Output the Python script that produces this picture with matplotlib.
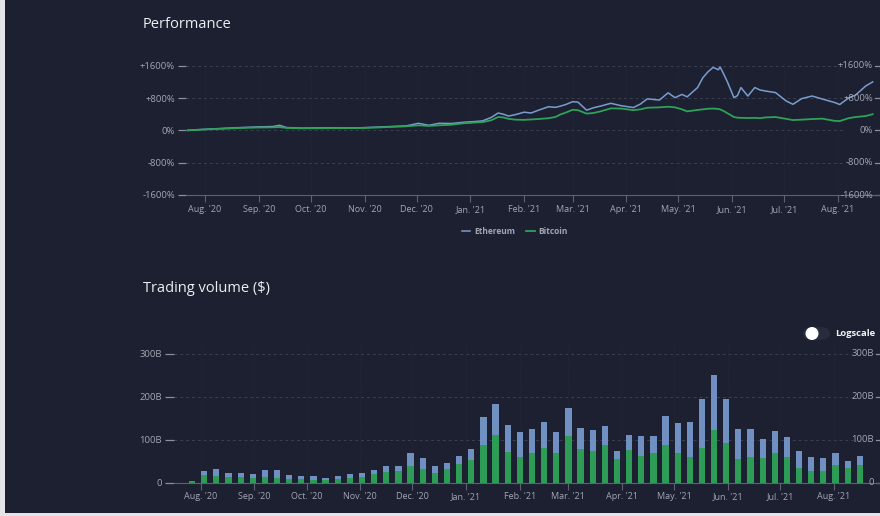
import matplotlib.pyplot as plt
import matplotlib.dates as mdates
import matplotlib.transforms as mtransforms
from matplotlib.patches import Rectangle, FancyBboxPatch, Ellipse
import pandas as pd

# --- Data ---
perf_dates = [
    '2020-07-22', '2020-07-27', '2020-08-05', '2020-08-14', '2020-08-22', '2020-08-31',
    '2020-09-09', '2020-09-13', '2020-09-17', '2020-09-26', '2020-10-04', '2020-10-13',
    '2020-10-22', '2020-10-30', '2020-11-08', '2020-11-16', '2020-11-25', '2020-12-02',
    '2020-12-08', '2020-12-14', '2020-12-21', '2020-12-28', '2021-01-04', '2021-01-08',
    '2021-01-13', '2021-01-17', '2021-01-20', '2021-01-23', '2021-01-27', '2021-02-01',
    '2021-02-05', '2021-02-09', '2021-02-15', '2021-02-19', '2021-02-22', '2021-02-25',
    '2021-03-01', '2021-03-04', '2021-03-09', '2021-03-13', '2021-03-17', '2021-03-23',
    '2021-03-29', '2021-04-05', '2021-04-09', '2021-04-13', '2021-04-20', '2021-04-25',
    '2021-04-29', '2021-05-03', '2021-05-06', '2021-05-12', '2021-05-15', '2021-05-18',
    '2021-05-21', '2021-05-24', '2021-05-25', '2021-05-27', '2021-05-29', '2021-06-02',
    '2021-06-04', '2021-06-06', '2021-06-10', '2021-06-14', '2021-06-17', '2021-06-20',
    '2021-06-26', '2021-07-02', '2021-07-06', '2021-07-11', '2021-07-17', '2021-07-23',
    '2021-07-30', '2021-08-02', '2021-08-07', '2021-08-11', '2021-08-17', '2021-08-21',
]
eth_perf = [
    0, 15, 35, 55, 70, 85, 95, 125, 70, 55, 60, 65,
    60, 65, 80, 95, 110, 175, 125, 175, 170, 200, 220, 235,
    320, 430, 400, 355, 390, 450, 430, 495, 585, 570, 600, 640,
    710, 700, 500, 560, 600, 670, 610, 565, 650, 780, 750, 930,
    810, 890, 830, 1060, 1300, 1450, 1560, 1500, 1570, 1400, 1220, 810,
    860, 1060, 850, 1060, 1000, 975, 935, 730, 645, 785, 850, 775,
    690, 640, 800, 870, 1100, 1200,
]
btc_perf = [
    0, 12, 30, 45, 60, 70, 75, 80, 60, 50, 52, 55,
    55, 58, 70, 85, 100, 125, 110, 125, 140, 175, 195, 205,
    250, 330, 320, 285, 265, 260, 270, 280, 300, 330, 395, 440,
    510, 500, 415, 430, 470, 545, 540, 500, 520, 560, 570, 585,
    570, 520, 470, 505, 520, 535, 540, 530, 520, 480, 430, 330,
    315, 310, 305, 310, 300, 320, 330, 285, 255, 265, 280, 290,
    235, 230, 300, 330, 355, 400,
]

vol_weeks = pd.date_range('2020-07-27', periods=56, freq='7D')
# weekly trading volume in billions of $
btc_vol = [
    3, 17, 16, 13, 13, 12, 13, 12, 9, 8, 7, 7, 9, 12, 14, 20, 25, 27, 39, 33,
    23, 31, 44, 53, 88, 111, 71, 61, 69, 81, 70, 108, 78, 75, 89, 56, 77, 62,
    69, 89, 69, 59, 81, 122, 93, 55, 61, 57, 69, 61, 34, 27, 28, 42, 34, 41,
]
eth_vol = [
    1, 10, 17, 10, 10, 8, 16, 17, 9, 8, 8, 5, 7, 8, 9, 9, 15, 13, 30, 25,
    17, 16, 18, 25, 65, 73, 64, 56, 56, 60, 47, 66, 49, 47, 42, 19, 34, 46,
    40, 67, 69, 83, 115, 130, 103, 69, 65, 46, 51, 45, 39, 32, 30, 27, 17, 21,
]

perf_ticks = [-1600, -800, 0, 800, 1600]
perf_labels = ['-1600%', '-800%', '0%', '+800%', '+1600%']
vol_ticks = [0, 100, 200, 300]
vol_labels = ['0', '100B', '200B', '300B']

# --- Style ---
BG = '#1c2031'
GRID = '#3b4052'
TICK_TXT = '#a3a7b3'
AXIS = '#5d6273'
ETH_C = '#7a9dcf'
BTC_C = '#2ea259'
ETH_BAR = '#6f90c0'
BTC_BAR = '#2d9c56'

plt.rcParams['font.family'] = ['Open Sans', 'DejaVu Sans']

W, H = 880, 516
fig = plt.figure(figsize=(8.8, 5.16), dpi=100, facecolor=BG)


def px_box(left, right, top, bottom):
    # pixel box -> figure fraction [l, b, w, h]
    return [left / W, 1 - bottom / H, (right - left) / W, (bottom - top) / H]


def style_axes(ax, ticks, labels, grid_end, label_right, tick_len):
    ax.set_facecolor(BG)
    for s in ['top', 'right', 'left']:
        ax.spines[s].set_visible(False)
    ax.spines['bottom'].set_color(AXIS)
    ax.spines['bottom'].set_linewidth(0.8)
    ax.set_yticks(ticks)
    ax.set_yticklabels(labels)
    ax.tick_params(axis='y', colors='#8b8f9c', labelcolor=TICK_TXT, labelsize=6.8,
                   length=tick_len, width=0.9, pad=2)
    ax.tick_params(axis='x', colors=AXIS, labelcolor=TICK_TXT, labelsize=6.5,
                   length=5, width=0.8, pad=2)
    ax.xaxis.set_major_locator(mdates.MonthLocator())
    ax.xaxis.set_major_formatter(mdates.DateFormatter("%b. '%y"))
    ax.grid(axis='x', color='#262b3c', linewidth=0.6, linestyle=':')
    # dashed horizontal grid that stops before the right-hand labels
    x0, x1 = ax.get_position().x0 * W, ax.get_position().x1 * W
    frac = (grid_end - x0) / (x1 - x0)
    for t in ticks[1:]:
        ax.axhline(t, xmin=0, xmax=frac, color=GRID, linewidth=0.7,
                   linestyle=(0, (3, 3)), zorder=0)
    # right-hand labels with a short tick mark after them
    trans = mtransforms.blended_transform_factory(ax.transAxes, ax.transData)
    lx = (label_right - x0) / (x1 - x0)
    tx0 = (label_right + 2 - x0) / (x1 - x0)
    for t, lab in zip(ticks, labels):
        ax.text(lx, t, lab, transform=trans, ha='right', va='center',
                fontsize=6.8, color=TICK_TXT)
        ax.plot([tx0, 1.0], [t, t], transform=trans, color='#8b8f9c',
                linewidth=0.9, clip_on=False)


# --- Performance chart ---
ax1 = fig.add_axes(px_box(186, 880, 61.7, 195))
dates = pd.to_datetime(perf_dates)
ax1.plot(dates, eth_perf, color=ETH_C, linewidth=1.1, label='Ethereum', zorder=3)
ax1.plot(dates, btc_perf, color=BTC_C, linewidth=1.3, label='Bitcoin', zorder=4)
ax1.set_ylim(-1600, 1700)
ax1.set_xlim(pd.Timestamp('2020-07-21'), pd.Timestamp('2021-08-25 05:00'))
style_axes(ax1, perf_ticks, perf_labels, 843, 873, 6)

fig.text(143 / W, 1 - 25 / H, 'Performance', color='#eceef3', fontsize=10.5,
         ha='left', va='center')

leg = fig.legend(loc='center', bbox_to_anchor=(515 / W, 1 - 231 / H), ncol=2,
                 frameon=False, fontsize=6.0, handlelength=1.0, handletextpad=0.5,
                 columnspacing=1.3)
for txt in leg.get_texts():
    txt.set_color(TICK_TXT)
    txt.set_fontweight('bold')

# --- Trading volume chart ---
ax2 = fig.add_axes(px_box(174, 880, 345.4, 482.7))
ax2.bar(vol_weeks, btc_vol, width=3.6, color=BTC_BAR, zorder=3)
ax2.bar(vol_weeks, eth_vol, width=3.6, bottom=btc_vol, color=ETH_BAR, zorder=3)
ax2.set_ylim(0, 320)
ax2.set_xlim(pd.Timestamp('2020-07-16 14:00'), pd.Timestamp('2021-08-27 16:00'))
style_axes(ax2, vol_ticks, vol_labels, 853, 874, 6.5)

fig.text(143 / W, 1 - 288 / H, 'Trading volume ($)', color='#eceef3', fontsize=10.5,
         ha='left', va='center')

# Logscale toggle
fig.add_artist(FancyBboxPatch((803 / W, 1 - 340 / H), 27 / W, 13 / H,
                              boxstyle='round,pad=0,rounding_size=0.012',
                              transform=fig.transFigure, facecolor='#272c3c',
                              edgecolor='none'))
fig.add_artist(Ellipse((812 / W, 1 - 333.5 / H), 13 / W, 13 / H,
                       transform=fig.transFigure, facecolor='white', edgecolor='none'))
fig.text(835 / W, 1 - 333 / H, 'Logscale', color='#f2f3f6', fontsize=6.8,
         fontweight='bold', ha='left', va='center')

# light frame strips at the left and bottom edge of the screenshot
fig.add_artist(Rectangle((0, 0), 5 / W, 1, transform=fig.transFigure,
                         facecolor='#e4e4e6', edgecolor='none'))
fig.add_artist(Rectangle((0, 0), 1, 3 / H, transform=fig.transFigure,
                         facecolor='#e4e4e6', edgecolor='none'))

fig.savefig('out.png', dpi=100, facecolor=BG)
